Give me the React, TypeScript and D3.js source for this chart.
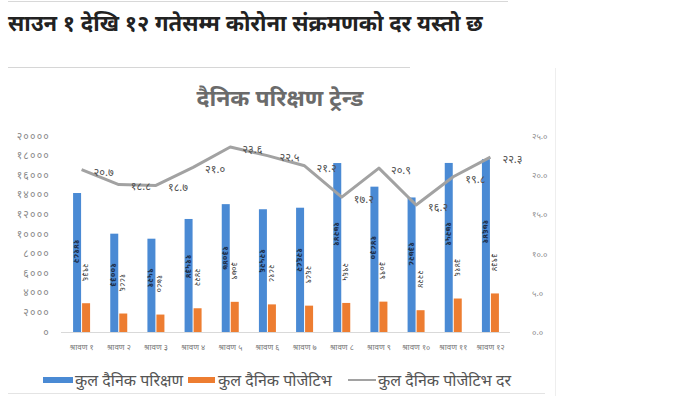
import { useEffect, useRef } from 'react';
import * as d3 from 'd3';

const categories = [
  'श्रावण १', 'श्रावण २', 'श्रावण ३', 'श्रावण ४', 'श्रावण ५', 'श्रावण ६',
  'श्रावण ७', 'श्रावण ८', 'श्रावण ९', 'श्रावण १०', 'श्रावण ११', 'श्रावण १२',
];
const totalTests = [14182, 10033, 9521, 11534, 13047, 12526, 12682, 17241, 14830, 13728, 17251, 17641];
const totalPositive = [2936, 1886, 1780, 2422, 3079, 2818, 2689, 2965, 3099, 2224, 3416, 3934];
const positiveRate = [20.7, 18.8, 18.7, 21.0, 23.6, 22.5, 21.2, 17.2, 20.9, 16.2, 19.8, 22.3];
const leftTicks = [0, 2000, 4000, 6000, 8000, 10000, 12000, 14000, 16000, 18000, 20000];
const rightTicks = [0, 5, 10, 15, 20, 25];
const legendLabels = ['कुल दैनिक परिक्षण', 'कुल दैनिक पोजेटिभ', 'कुल दैनिक पोजेटिभ दर'];

const pageTitle = 'साउन १ देखि १२ गतेसम्म कोरोना संक्रमणको दर यस्तो छ';
const chartTitle = 'दैनिक परिक्षण ट्रेन्ड';

const FONT = '"Noto Sans Devanagari", "Lohit Devanagari", "Noto Sans", sans-serif';
const BLUE = '#4a8ad4';
const ORANGE = '#ed7d31';
const GREY = '#a2a2a2';

// ० १ २ ... ९
const nep = (s: string) => s.replace(/[0-9]/g, c => String.fromCharCode(0x0966 + +c));

const App = () => {
  const svgRef = useRef<SVGSVGElement>(null);

  useEffect(() => {
    const svg = d3.select(svgRef.current);
    svg.selectAll('*').remove();

    const x = d3.scaleBand().domain(categories).range([63, 509]);
    const yL = d3.scaleLinear().domain([0, 20000]).range([332, 136]);
    const yR = d3.scaleLinear().domain([0, 25]).range([332, 136]);
    const cx = (i: number) => (x(categories[i]) as number) + x.bandwidth() / 2;

    // page header
    svg.append('line')
      .attr('x1', 8).attr('x2', 508).attr('y1', 1.5).attr('y2', 1.5)
      .attr('stroke', '#d8d8d8');
    svg.append('text')
      .attr('x', 8).attr('y', 31)
      .attr('font-size', 22).attr('font-weight', 'bold')
      .attr('fill', '#222')
      .text(pageTitle);

    // chart frame
    svg.append('line')
      .attr('x1', 8).attr('x2', 410).attr('y1', 67.5).attr('y2', 67.5)
      .attr('stroke', '#d6d6d6');
    svg.append('line')
      .attr('x1', 555.5).attr('x2', 555.5).attr('y1', 68).attr('y2', 396)
      .attr('stroke', '#eeeeee');
    svg.append('line')
      .attr('x1', 8).attr('x2', 545).attr('y1', 393.5).attr('y2', 393.5)
      .attr('stroke', '#e4e4e4');

    svg.append('text')
      .attr('x', 280).attr('y', 106)
      .attr('text-anchor', 'middle')
      .attr('font-size', 23).attr('font-weight', 'bold')
      .attr('fill', '#6b6b6b')
      .text(chartTitle);

    // axes labels
    svg.append('g').selectAll('text')
      .data(leftTicks)
      .enter()
      .append('text')
      .attr('x', 50)
      .attr('y', d => yL(d))
      .attr('dy', '0.35em')
      .attr('text-anchor', 'end')
      .attr('font-size', 10.5)
      .attr('letter-spacing', 1.2)
      .attr('fill', '#8a8a8a')
      .text(d => nep(String(d)));

    svg.append('g').selectAll('text')
      .data(rightTicks)
      .enter()
      .append('text')
      .attr('x', 532)
      .attr('y', d => yR(d))
      .attr('dy', '0.35em')
      .attr('font-size', 8.5)
      .attr('fill', '#8a8a8a')
      .text(d => nep(d.toFixed(1)));

    svg.append('line')
      .attr('x1', 61).attr('x2', 510).attr('y1', 332.5).attr('y2', 332.5)
      .attr('stroke', '#d9d9d9');

    svg.append('g').selectAll('text')
      .data(categories)
      .enter()
      .append('text')
      .attr('x', (d, i) => cx(i))
      .attr('y', 350)
      .attr('text-anchor', 'middle')
      .attr('font-size', 8)
      .attr('fill', '#777')
      .text(d => d);

    // bars
    svg.append('g').selectAll('rect')
      .data(totalTests)
      .enter()
      .append('rect')
      .attr('x', (d, i) => cx(i) - 8.5)
      .attr('y', d => yL(d))
      .attr('width', 8)
      .attr('height', d => 332 - yL(d))
      .attr('fill', BLUE);

    svg.append('g').selectAll('rect')
      .data(totalPositive)
      .enter()
      .append('rect')
      .attr('x', (d, i) => cx(i) + 0.5)
      .attr('y', d => yL(d))
      .attr('width', 8)
      .attr('height', d => 332 - yL(d))
      .attr('fill', ORANGE);

    // bar labels, rotated
    svg.append('g').selectAll('text')
      .data(totalTests)
      .enter()
      .append('text')
      .attr('transform', (d, i) => {
        const top = yL(d);
        return `translate(${cx(i) - 4.5}, ${top + 0.42 * (332 - top)}) rotate(90)`;
      })
      .attr('text-anchor', 'middle')
      .attr('dy', '0.35em')
      .attr('font-size', 8.5)
      .attr('font-weight', 'bold')
      .attr('fill', '#1e2f4a')
      .text(d => nep(String(d)));

    svg.append('g').selectAll('text')
      .data(totalPositive)
      .enter()
      .append('text')
      .attr('transform', (d, i) => `translate(${cx(i) + 4.5}, ${yL(d) - 31}) rotate(90)`)
      .attr('text-anchor', 'middle')
      .attr('dy', '0.35em')
      .attr('font-size', 8.5)
      .attr('fill', '#404040')
      .text(d => nep(String(d)));

    // rate line
    const line = d3.line<number>()
      .x((d, i) => cx(i))
      .y(d => yR(d));

    svg.append('path')
      .datum(positiveRate)
      .attr('d', line)
      .attr('fill', 'none')
      .attr('stroke', GREY)
      .attr('stroke-width', 3)
      .attr('stroke-linejoin', 'round');

    svg.append('g').selectAll('text')
      .data(positiveRate)
      .enter()
      .append('text')
      .attr('x', (d, i) => cx(i) + 12)
      .attr('y', d => yR(d) + 2)
      .attr('dy', '0.35em')
      .attr('font-size', 11)
      .attr('fill', '#505050')
      .text(d => nep(d.toFixed(1)));

    // legend
    const legend = svg.append('g').attr('transform', 'translate(0, 380)');
    legend.append('rect').attr('x', 43).attr('y', -3).attr('width', 30).attr('height', 6).attr('fill', BLUE);
    legend.append('rect').attr('x', 188).attr('y', -3).attr('width', 27).attr('height', 6).attr('fill', ORANGE);
    legend.append('line').attr('x1', 348).attr('x2', 376).attr('y1', 0).attr('y2', 0)
      .attr('stroke', GREY).attr('stroke-width', 2);
    legend.selectAll('text.lg')
      .data(legendLabels)
      .enter()
      .append('text')
      .attr('class', 'lg')
      .attr('x', (d, i) => [75, 218, 378][i])
      .attr('y', 6)
      .attr('font-size', 16)
      .attr('fill', '#555')
      .text(d => d);
  }, []);

  return (
    <svg
      ref={svgRef}
      width={689}
      height={396}
      style={{ position: 'absolute', left: 0, top: 0, background: '#fff', fontFamily: FONT }}
    />
  );
};

export default App;
